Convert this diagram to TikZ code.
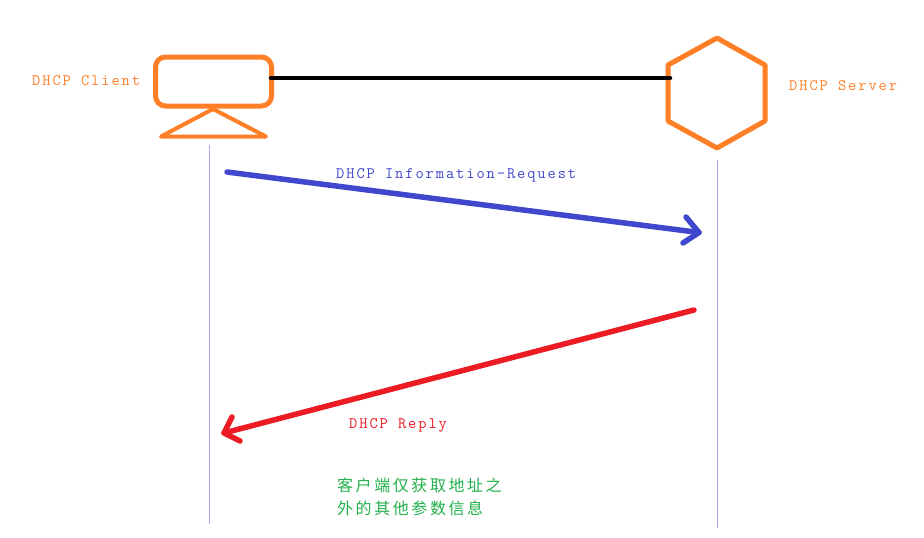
\documentclass[tikz,border=0pt]{standalone}
\usepackage{fontspec}
\newfontfamily\labfont[LetterSpace=12]{Latin Modern Mono}
\newfontfamily\cjkfont[LetterSpace=16]{Noto Sans CJK SC}
\definecolor{pOrange}{RGB}{255,127,39}
\definecolor{pBlue}{RGB}{63,72,204}
\definecolor{pRed}{RGB}{237,28,36}
\definecolor{pGreen}{RGB}{34,177,76}
\definecolor{pLav}{RGB}{175,165,240}
\tikzset{
  lab/.style={inner sep=0pt,anchor=base west,font=\labfont\fontsize{16}{18}\selectfont},
  shapeline/.style={draw=pOrange,line width=5pt,line join=round},
  life/.style={draw=pLav,line width=1pt},
  msg/.style={line width=5.5pt,line cap=round,line join=round},
}
\begin{document}
\begin{tikzpicture}[x=1pt,y=-1pt]
\useasboundingbox (0,0) rectangle (924,538);
\fill[white] (0,0) rectangle (924,538);
% client
\node[shapeline,rounded corners=10pt,minimum width=116pt,minimum height=49pt,inner sep=0pt,outer sep=0pt] (monitor) at (213.5,81.5) {};
\draw[shapeline,line width=4pt] (213,109) -- (161,136.5) -- (266,136.5) -- cycle;
% server
\coordinate (hT) at (717,38);
\coordinate (hUR) at (765,65);
\coordinate (hLR) at (765,121);
\coordinate (hB) at (717,148);
\coordinate (hLL) at (668,121);
\coordinate (hUL) at (668,65);
\draw[shapeline] (hT) -- (hUR) -- (hLR) -- (hB) -- (hLL) -- (hUL) -- cycle;
\coordinate (cEnd) at (271,78);
\coordinate (sEnd) at (670,78);
\draw[line width=4.5pt,line cap=round,black] (cEnd) -- (sEnd);
% lifelines
\coordinate (cTop) at (209.5,145);
\coordinate (cBot) at (209.5,524);
\coordinate (sTop) at (717,160);
\coordinate (sBot) at (717,528);
\draw[life] (cTop) -- (cBot);
\draw[life] (sTop) -- (sBot);
% request
\coordinate (rqS) at (227,172);
\coordinate (rqT) at (699,232.5);
\coordinate (rqA) at (686,217);
\coordinate (rqB) at (683,243);
\draw[msg,pBlue] (rqS) -- (rqT);
\draw[msg,pBlue] (rqA) -- (rqT) -- (rqB);
% reply
\coordinate (rpS) at (694,310);
\coordinate (rpT) at (224,433);
\coordinate (rpA) at (232,417);
\coordinate (rpB) at (240,441);
\draw[msg,pRed] (rpS) -- (rpT);
\draw[msg,pRed] (rpA) -- (rpT) -- (rpB);
% labels
\node[lab,text=pOrange] (clientlab) at (32,85.5) {DHCP Client};
\node[lab,text=pOrange] (serverlab) at (789,90.5) {DHCP Server};
\node[lab,text=pBlue] (reqlab) at (336,178.5) {DHCP Information-Request};
\node[lab,text=pRed] (replab) at (349,428.5) {DHCP Reply};
\node[inner sep=0pt,anchor=base west,align=left,text=pGreen,font=\cjkfont\fontsize{16}{23}\selectfont] (note) at (337,514) {客户端仅获取地址之\\外的其他参数信息};
\end{tikzpicture}
\end{document}
